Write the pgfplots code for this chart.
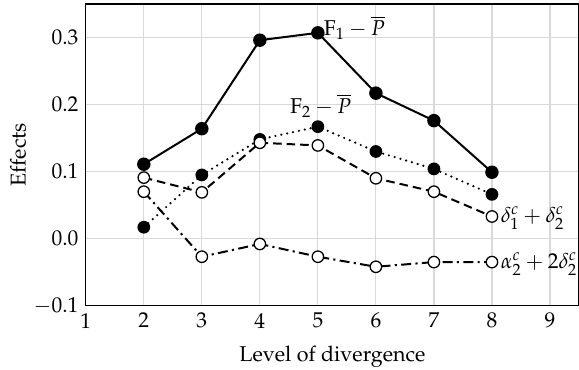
\documentclass[border=0pt]{standalone}
\usepackage[T1]{fontenc}
\usepackage{mathpazo}
\usepackage{pgfplots}
\pgfplotsset{compat=1.18}
\begin{document}
\fontsize{15}{18}\selectfont
\begin{tikzpicture}
\begin{axis}[
  scale only axis, width=345pt, height=211pt,
  xmin=1, xmax=9.5, ymin=-0.1, ymax=0.35,
  xtick={1,2,...,9}, ytick={-0.1,0,0.1,0.2,0.3},
  yticklabel style={/pgf/number format/.cd,fixed,fixed zerofill,precision=1},
  grid=major, major grid style={gray!30, line width=0.8pt},
  major tick length=0pt,
  axis line style={line width=0.9pt},
  xlabel={Level of divergence}, ylabel={Effects},
  xlabel style={yshift=-2pt}, ylabel style={yshift=-5pt},
  tick label style={font=\fontsize{15}{18}\selectfont},
  label style={font=\fontsize{15}{18}\selectfont},
  clip=false,
]
\addplot[black, line width=1.4pt, mark=*, mark size=4pt, mark options={solid, fill=black}] coordinates {(2,0.111) (3,0.164) (4,0.296) (5,0.307) (6,0.217) (7,0.176) (8,0.099)};
\addplot[black, line width=1.7pt, dash pattern=on 0pt off 4.2pt, line cap=round, mark=*, mark size=4pt, mark options={solid, fill=black, line width=0.9pt}] coordinates {(2,0.017) (3,0.095) (4,0.148) (5,0.167) (6,0.130) (7,0.104) (8,0.066)};
\addplot[black, line width=1.4pt, dash pattern=on 6pt off 3.5pt, mark=*, mark size=4pt, mark options={solid, fill=white, line width=0.9pt}] coordinates {(2,0.091) (3,0.069) (4,0.143) (5,0.139) (6,0.090) (7,0.070) (8,0.033)};
\addplot[black, line width=1.4pt, dash pattern=on 7pt off 3pt on 1.5pt off 3pt, mark=*, mark size=4pt, mark options={solid, fill=white, line width=0.9pt}] coordinates {(2,0.070) (3,-0.027) (4,-0.008) (5,-0.027) (6,-0.042) (7,-0.035) (8,-0.035)};
\node[anchor=south west, inner sep=1pt, xshift=3pt] at (axis cs:5,0.295) {$\mathrm{F}_1-\overline{P}$};
\node[anchor=south, inner sep=1pt] at (axis cs:5.05,0.178) {$\mathrm{F}_2-\overline{P}$};
\node[anchor=west, inner sep=1pt, xshift=5pt] at (axis cs:8,0.030) {$\delta_1^c+\delta_2^c$};
\node[anchor=west, inner sep=1pt, xshift=5pt] at (axis cs:8,-0.038) {$\alpha_2^c+2\delta_2^c$};
\end{axis}
\pgfresetboundingbox
\path[use as bounding box] ([xshift=-60pt,yshift=-45pt]current axis.south west) rectangle ([yshift=2.8pt]current axis.north east);
\end{tikzpicture}
\end{document}
